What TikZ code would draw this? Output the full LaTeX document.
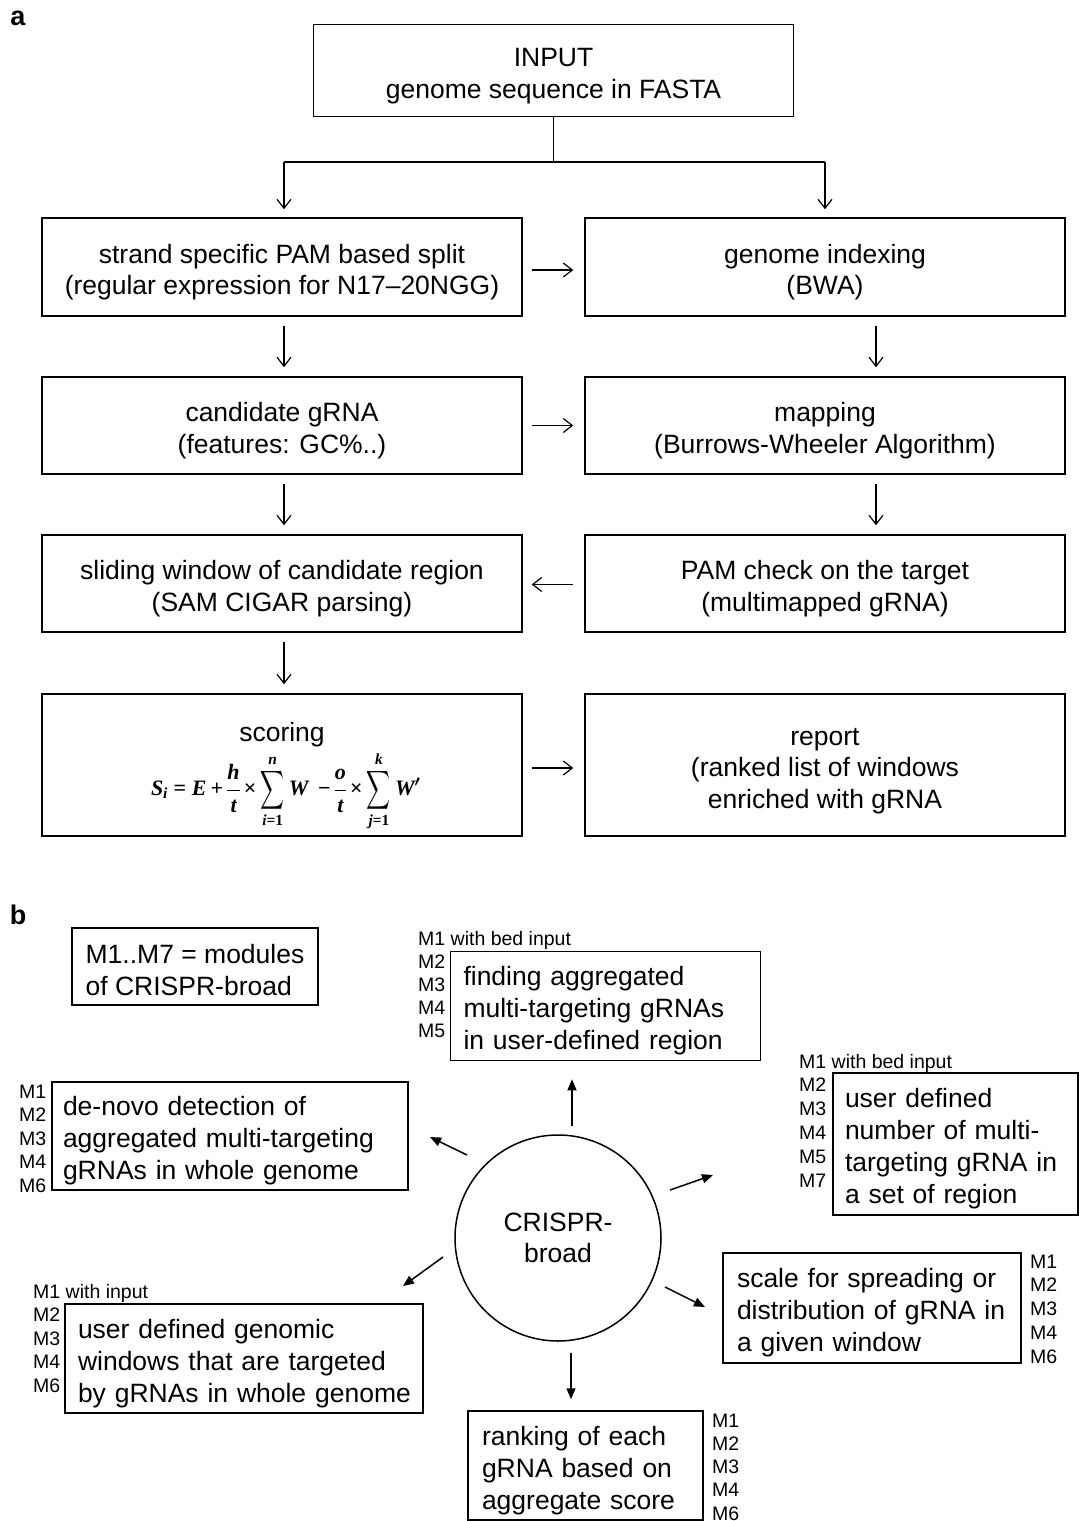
\RequirePackage{fix-cm}
\documentclass[tikz,border=0pt]{standalone}
\usepackage{amsmath}
\usepackage{graphicx}
\usepackage{fontspec}
\setmainfont{Liberation Sans}
\newfontfamily\fmlfont{Liberation Serif}
\usetikzlibrary{arrows.meta}
\newcommand\tstrut{\rule{0pt}{29pt}}
\newcommand\bsum{\mathop{\vcenter{\hbox{\scalebox{0.8}[1.3]{$\displaystyle\sum$}}}}\limits}
\newcommand\fv[1]{\text{\fmlfont\bfseries\itshape #1}}
\newcommand\fo[1]{\text{\fmlfont\bfseries #1}}
\begin{document}
\begin{tikzpicture}[x=1pt,y=-1pt,
  abox/.style={draw, line width=1.5pt, inner sep=0pt, align=center, minimum width=480pt,
    font=\fontsize{26.5}{31.5}\selectfont},
  bbox/.style={draw, line width=1.5pt, inner ysep=0pt, align=left,
    font=\fontsize{26.5}{32}\selectfont},
  mlab/.style={inner sep=0pt, anchor=base west, font=\fontsize{19.5}{23.5}\selectfont},
  plab/.style={inner sep=0pt, font=\fontsize{27}{30}\selectfont\bfseries},
  aline/.style={line width=1.2pt},
  aarr/.style={line width=1.2pt, -{Straight Barb[length=9pt,width=14pt,line width=1.2pt]}},
  barr/.style={line width=1.5pt, -{Triangle[length=11pt,width=9pt]}}
]
\useasboundingbox (0,0) rectangle (1087,1521);

% ---------------- part a ----------------
\node[plab] (lbla) at (18,18) {a};
\node[abox, minimum height=92pt] (input) at (553.5,70.5) {\tstrut INPUT\\genome sequence in FASTA};

\node[abox, minimum height=98pt] (L1) at (282,267) {\tstrut strand specific PAM based split\\(regular expression for N17--20NGG)};
\node[abox, minimum height=98pt] (R1) at (825,267) {\tstrut genome indexing\\(BWA)};
\node[abox, minimum height=97pt] (L2) at (282,425.5) {\tstrut candidate gRNA\\(features: GC\%..)};
\node[abox, minimum height=97pt] (R2) at (825,425.5) {\tstrut mapping\\(Burrows-Wheeler Algorithm)};
\node[abox, minimum height=97pt] (L3) at (282,583.5) {\tstrut sliding window of candidate region\\(SAM CIGAR parsing)};
\node[abox, minimum height=97pt] (R3) at (825,583.5) {\tstrut PAM check on the target\\(multimapped gRNA)};
\node[abox, minimum height=142pt] (L4) at (282,765) {\rule{0pt}{43pt}scoring\\[3pt]\makebox[262pt][l]{\fontsize{22}{26}\selectfont\boldmath\thickmuskip=4mu\medmuskip=3mu\nulldelimiterspace=0pt$\displaystyle \fv{S}_{\fv{i}} \mathrel{\fo{=}} \fv{E} \mathbin{\fo{+}} \frac{\fv{h}}{\fv{t}} \mathbin{\fo{×}} \bsum_{\fv{i}\fo{=1}}^{\fv{n}} \fv{W} \;\mathbin{\fo{−}} \frac{\fv{o}}{\fv{t}} \mathbin{\fo{×}} \bsum_{\fv{j}\fo{=1}}^{\fv{k}} \fv{W}'$}};
\node[abox, minimum height=142pt] (R4) at (825,765) {\tstrut report\\(ranked list of windows\\enriched with gRNA};

\coordinate (jl) at (284,162);
\coordinate (jr) at (825,162);
\draw[aline] (input.south) -- (input.south |- jl);
\draw[aline] (jl) -- (jr);
\draw[aarr, shorten >=8pt] (jl) -- (jl |- L1.north);
\draw[aarr, shorten >=8pt] (jr) -- (jr |- R1.north);

\draw[aarr, shorten <=9pt, shorten >=11pt] ([yshift=-3pt]L1.east) -- ([yshift=-3pt]R1.west);
\draw[aarr, shorten <=9pt, shorten >=11pt] (L2) -- (R2);
\draw[aarr, shorten <=11pt, shorten >=9pt] ([yshift=-1pt]R3.west) -- ([yshift=-1pt]L3.east);
\draw[aarr, shorten <=9pt, shorten >=11pt] ([yshift=-3pt]L4.east) -- ([yshift=-3pt]R4.west);

\draw[aarr, shorten <=9pt, shorten >=9pt] ([xshift=2pt]L1.south) -- ([xshift=2pt]L2.north);
\draw[aarr, shorten <=9pt, shorten >=9pt] ([xshift=2pt]L2.south) -- ([xshift=2pt]L3.north);
\draw[aarr, shorten <=9pt, shorten >=9pt] ([xshift=2pt]L3.south) -- ([xshift=2pt]L4.north);
\draw[aarr, shorten <=9pt, shorten >=9pt] ([xshift=51pt]R1.south) -- ([xshift=51pt]R2.north);
\draw[aarr, shorten <=9pt, shorten >=9pt] ([xshift=51pt]R2.south) -- ([xshift=51pt]R3.north);

% ---------------- part b ----------------
\node[plab] (lblb) at (18,915) {b};
\node[bbox, inner xsep=0pt, minimum width=246pt, minimum height=77pt] (leg) at (195,966.5) {\rule{0pt}{26pt}M1..M7 = modules\\of CRISPR-broad};

\node[bbox, inner xsep=13pt, text width=284pt, minimum height=109pt] (T) at (605.5,1006) {\tstrut finding aggregated\\multi-targeting gRNAs\\in user-defined region};
\node[bbox, inner xsep=11pt, text width=334pt, minimum height=108pt] (UL) at (230,1136) {\tstrut de-novo detection of\\\mbox{aggregated multi-targeting}\\\mbox{gRNAs in whole genome}};
\node[bbox, inner xsep=12pt, text width=221pt, minimum height=142pt] (UR) at (955.5,1144) {\tstrut user defined\\\mbox{number of multi-}\\\mbox{targeting gRNA in}\\a set of region};
\node[bbox, inner xsep=14pt, text width=270pt, minimum height=110pt] (LR) at (872,1308) {\tstrut\mbox{scale for spreading or}\\\mbox{distribution of gRNA in}\\a given window};
\node[bbox, inner xsep=13pt, text width=332pt, minimum height=109pt] (LL) at (244,1358.5) {\tstrut\mbox{user defined genomic}\\\mbox{windows that are targeted}\\\mbox{by gRNAs in whole genome}};
\node[bbox, inner xsep=14pt, text width=207pt, minimum height=109pt] (BB) at (585.5,1465.5) {\tstrut ranking of each\\gRNA based on\\\mbox{aggregate score}};

\node[draw, circle, line width=1.5pt, minimum size=206pt, inner sep=0pt, align=center,
  font=\fontsize{26.5}{31}\selectfont] (core) at (558,1238) {CRISPR-\\broad};

\foreach \t [count=\k from 0] in {M1 with bed input,M2,M3,M4,M5}
  \node[mlab] (mT\k) at (418,{945+23.2*\k}) {\t};
\foreach \t [count=\k from 0] in {M1,M2,M3,M4,M6}
  \node[mlab] (mUL\k) at (19,{1098+23.6*\k}) {\t};
\foreach \t [count=\k from 0] in {M1 with bed input,M2,M3,M4,M5,M7}
  \node[mlab] (mUR\k) at (799,{1068+23.8*\k}) {\t};
\foreach \t [count=\k from 0] in {M1,M2,M3,M4,M6}
  \node[mlab] (mLR\k) at (1030,{1268+23.8*\k}) {\t};
\foreach \t [count=\k from 0] in {M1 with input,M2,M3,M4,M6}
  \node[mlab] (mLL\k) at (33,{1298+23.5*\k}) {\t};
\foreach \t [count=\k from 0] in {M1,M2,M3,M4,M6}
  \node[mlab] (mBB\k) at (712,{1427+23.3*\k}) {\t};

\coordinate (ulA) at (467,1155); \coordinate (ulB) at (430,1137);
\coordinate (urA) at (670,1190); \coordinate (urB) at (713,1175);
\coordinate (lrA) at (665,1287); \coordinate (lrB) at (705,1307);
\coordinate (llA) at (443,1257); \coordinate (llB) at (403,1286);
\draw[barr, shorten <=8pt, shorten >=18pt] ([xshift=14pt]core.north) -- ([xshift=14pt]core.north |- T.south);
\draw[barr, shorten <=11pt, shorten >=11pt] ([xshift=13pt]core.south) -- ([xshift=13pt]core.south |- BB.north);
\draw[barr] (ulA) -- (ulB);
\draw[barr] (urA) -- (urB);
\draw[barr] (lrA) -- (lrB);
\draw[barr] (llA) -- (llB);
\end{tikzpicture}
\end{document}
